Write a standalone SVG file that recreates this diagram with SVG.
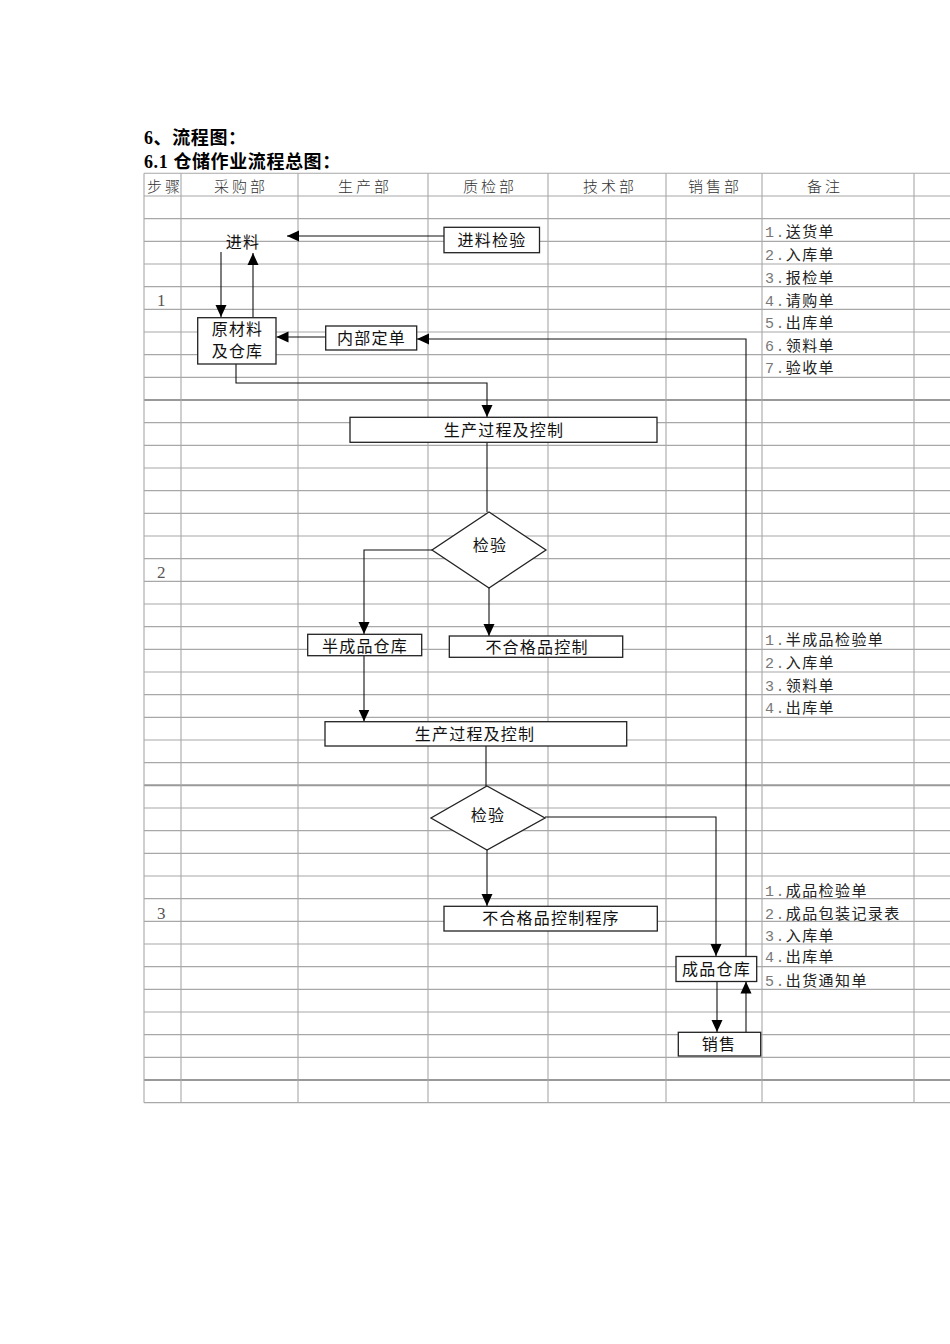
<svg xmlns="http://www.w3.org/2000/svg" width="950" height="1344" viewBox="0 0 950 1344">
<style>
.g{stroke:#a8a8a8;stroke-width:1.1;fill:none}
.gt{stroke:#999;stroke-width:2;fill:none}
.ttl{font-family:"Liberation Serif","Noto Sans CJK SC",serif;font-size:18px;font-weight:bold;fill:#000;letter-spacing:0.6px}
.hd{font-family:"Noto Sans CJK SC",sans-serif;font-size:15px;letter-spacing:3px;fill:#333;font-weight:300}
.st{font-family:"Liberation Serif",serif;font-size:17px;fill:#555}
.nt{font-family:"Liberation Mono","Noto Sans CJK SC",monospace;font-size:15px;letter-spacing:1.4px;fill:#222}
.nt .n{fill:#777}
.box{fill:#fff;stroke:#222;stroke-width:1.3}
.lb{font-family:"Noto Sans CJK SC",sans-serif;font-size:16px;letter-spacing:1.2px;fill:#111;text-anchor:middle}
.c{stroke:#111;stroke-width:1.1;fill:none}
</style>
<defs>
<marker id="ah" markerUnits="userSpaceOnUse" markerWidth="12" markerHeight="12" refX="12" refY="6" orient="auto">
<path d="M0,0.5 L12,6 L0,11.5 z" fill="#000"/>
</marker>
</defs>
<rect width="950" height="1344" fill="#fff"/>

<g id="title">
<text class="ttl" x="144" y="144">6、流程图：</text>
<text class="ttl" x="144" y="168">6.1 仓储作业流程总图：</text>
</g>

<g id="grid">
<path class="g" d="M144,173.3H950 M144,196H950 M144,218.67H950 M144,241.33H950 M144,264H950 M144,286.67H950 M144,309.33H950 M144,332H950 M144,354.67H950 M144,377.33H950 M144,422.67H950 M144,445.33H950 M144,468H950 M144,490.67H950 M144,513.33H950 M144,536H950 M144,558.67H950 M144,581.33H950 M144,604H950 M144,626.67H950 M144,649.33H950 M144,672H950 M144,694.67H950 M144,717.33H950 M144,740H950 M144,762.67H950 M144,808H950 M144,830.67H950 M144,853.33H950 M144,876H950 M144,898.67H950 M144,921.33H950 M144,944H950 M144,966.67H950 M144,989.33H950 M144,1012H950 M144,1034.67H950 M144,1057.33H950 M144,1102.67H950"/>
<path class="gt" d="M144,400H950 M144,785.33H950 M144,1080H950"/>
<path class="g" d="M144,173.3V1102.67 M181,173.3V1102.67 M298,173.3V1102.67 M428,173.3V1102.67 M548,173.3V1102.67 M666,173.3V1102.67 M762,173.3V1102.67 M914,173.3V1102.67"/>
</g>

<g id="headers">
<text class="hd" x="147" y="192" letter-spacing="1">步骤</text>
<text class="hd" x="214" y="192">采购部</text>
<text class="hd" x="338" y="192">生产部</text>
<text class="hd" x="463" y="192">质检部</text>
<text class="hd" x="583" y="192">技术部</text>
<text class="hd" x="688" y="192">销售部</text>
<text class="hd" x="807" y="192" letter-spacing="16">备注</text>
</g>

<g id="steps">
<text class="st" x="157" y="306">1</text>
<text class="st" x="157" y="578">2</text>
<text class="st" x="157" y="919">3</text>
</g>

<g id="notes">
<text class="nt" x="765" y="237"><tspan class="n">1.</tspan>送货单</text>
<text class="nt" x="765" y="260"><tspan class="n">2.</tspan>入库单</text>
<text class="nt" x="765" y="283"><tspan class="n">3.</tspan>报检单</text>
<text class="nt" x="765" y="306"><tspan class="n">4.</tspan>请购单</text>
<text class="nt" x="765" y="328"><tspan class="n">5.</tspan>出库单</text>
<text class="nt" x="765" y="351"><tspan class="n">6.</tspan>领料单</text>
<text class="nt" x="765" y="373"><tspan class="n">7.</tspan>验收单</text>
<text class="nt" x="765" y="645"><tspan class="n">1.</tspan>半成品检验单</text>
<text class="nt" x="765" y="668"><tspan class="n">2.</tspan>入库单</text>
<text class="nt" x="765" y="691"><tspan class="n">3.</tspan>领料单</text>
<text class="nt" x="765" y="713"><tspan class="n">4.</tspan>出库单</text>
<text class="nt" x="765" y="896"><tspan class="n">1.</tspan>成品检验单</text>
<text class="nt" x="765" y="919"><tspan class="n">2.</tspan>成品包装记录表</text>
<text class="nt" x="765" y="941"><tspan class="n">3.</tspan>入库单</text>
<text class="nt" x="765" y="962"><tspan class="n">4.</tspan>出库单</text>
<text class="nt" x="765" y="986"><tspan class="n">5.</tspan>出货通知单</text>
</g>

<g id="connectors">
<path class="c" d="M444,236 L287,236" marker-end="url(#ah)"/>
<path class="c" d="M221,252 L221,317" marker-end="url(#ah)"/>
<path class="c" d="M253,317 L253,253" marker-end="url(#ah)"/>
<path class="c" d="M326,337 L276.5,337" marker-end="url(#ah)"/>
<path class="c" d="M746,957 L746,339 L417,339" marker-end="url(#ah)"/>
<path class="c" d="M236,364 L236,383 L487,383 L487,417" marker-end="url(#ah)"/>
<path class="c" d="M487,442 L487,512"/>
<path class="c" d="M432,550 L364,550 L364,634" marker-end="url(#ah)"/>
<path class="c" d="M489,588 L489,636" marker-end="url(#ah)"/>
<path class="c" d="M364,656 L364,721.5" marker-end="url(#ah)"/>
<path class="c" d="M486,746 L486,786"/>
<path class="c" d="M487,850 L487,906" marker-end="url(#ah)"/>
<path class="c" d="M545,817 L716,817 L716,956" marker-end="url(#ah)"/>
<path class="c" d="M717,981 L717,1032" marker-end="url(#ah)"/>
<path class="c" d="M746,1032 L746,981.5" marker-end="url(#ah)"/>
</g>

<g id="n-jinliao">
<text class="lb" x="243" y="248" fill="#222">进料</text>
</g>
<g id="n-jinliaojianyan">
<rect class="box" x="444" y="227.3" width="95.5" height="25.4"/>
<text class="lb" x="492" y="246">进料检验</text>
</g>
<g id="n-yuancailiao">
<rect class="box" x="197.7" y="317.7" width="78.3" height="46.3"/>
<text class="lb" x="237.5" y="335">原材料</text>
<text class="lb" x="237.5" y="357">及仓库</text>
</g>
<g id="n-neibudingdan">
<rect class="box" x="325.7" y="326" width="91" height="24"/>
<text class="lb" x="371.5" y="344">内部定单</text>
</g>
<g id="n-shengchan1">
<rect class="box" x="350" y="417.3" width="307" height="25"/>
<text class="lb" x="504" y="436">生产过程及控制</text>
</g>
<g id="n-jianyan1">
<polygon class="box" points="489,512 546,550 489,588 432,550"/>
<text class="lb" x="490" y="551">检验</text>
</g>
<g id="n-banchengpin">
<rect class="box" x="307.7" y="634.3" width="114" height="21.4"/>
<text class="lb" x="365" y="652">半成品仓库</text>
</g>
<g id="n-buhege">
<rect class="box" x="449.3" y="636" width="173.4" height="21.3"/>
<text class="lb" x="537" y="653">不合格品控制</text>
</g>
<g id="n-shengchan2">
<rect class="box" x="325" y="721.7" width="301.7" height="24.3"/>
<text class="lb" x="475" y="740">生产过程及控制</text>
</g>
<g id="n-jianyan2">
<polygon class="box" points="487,786 545,818 487,850 431,818"/>
<text class="lb" x="488" y="821">检验</text>
</g>
<g id="n-buhegechengxu">
<rect class="box" x="444" y="906.3" width="213.3" height="24.7"/>
<text class="lb" x="551" y="924">不合格品控制程序</text>
</g>
<g id="n-chengpin">
<rect class="box" x="676" y="956.5" width="80.7" height="25"/>
<text class="lb" x="716.5" y="975">成品仓库</text>
</g>
<g id="n-xiaoshou">
<rect class="box" x="678.3" y="1032.3" width="82.4" height="23.7"/>
<text class="lb" x="719" y="1050">销售</text>
</g>
</svg>
